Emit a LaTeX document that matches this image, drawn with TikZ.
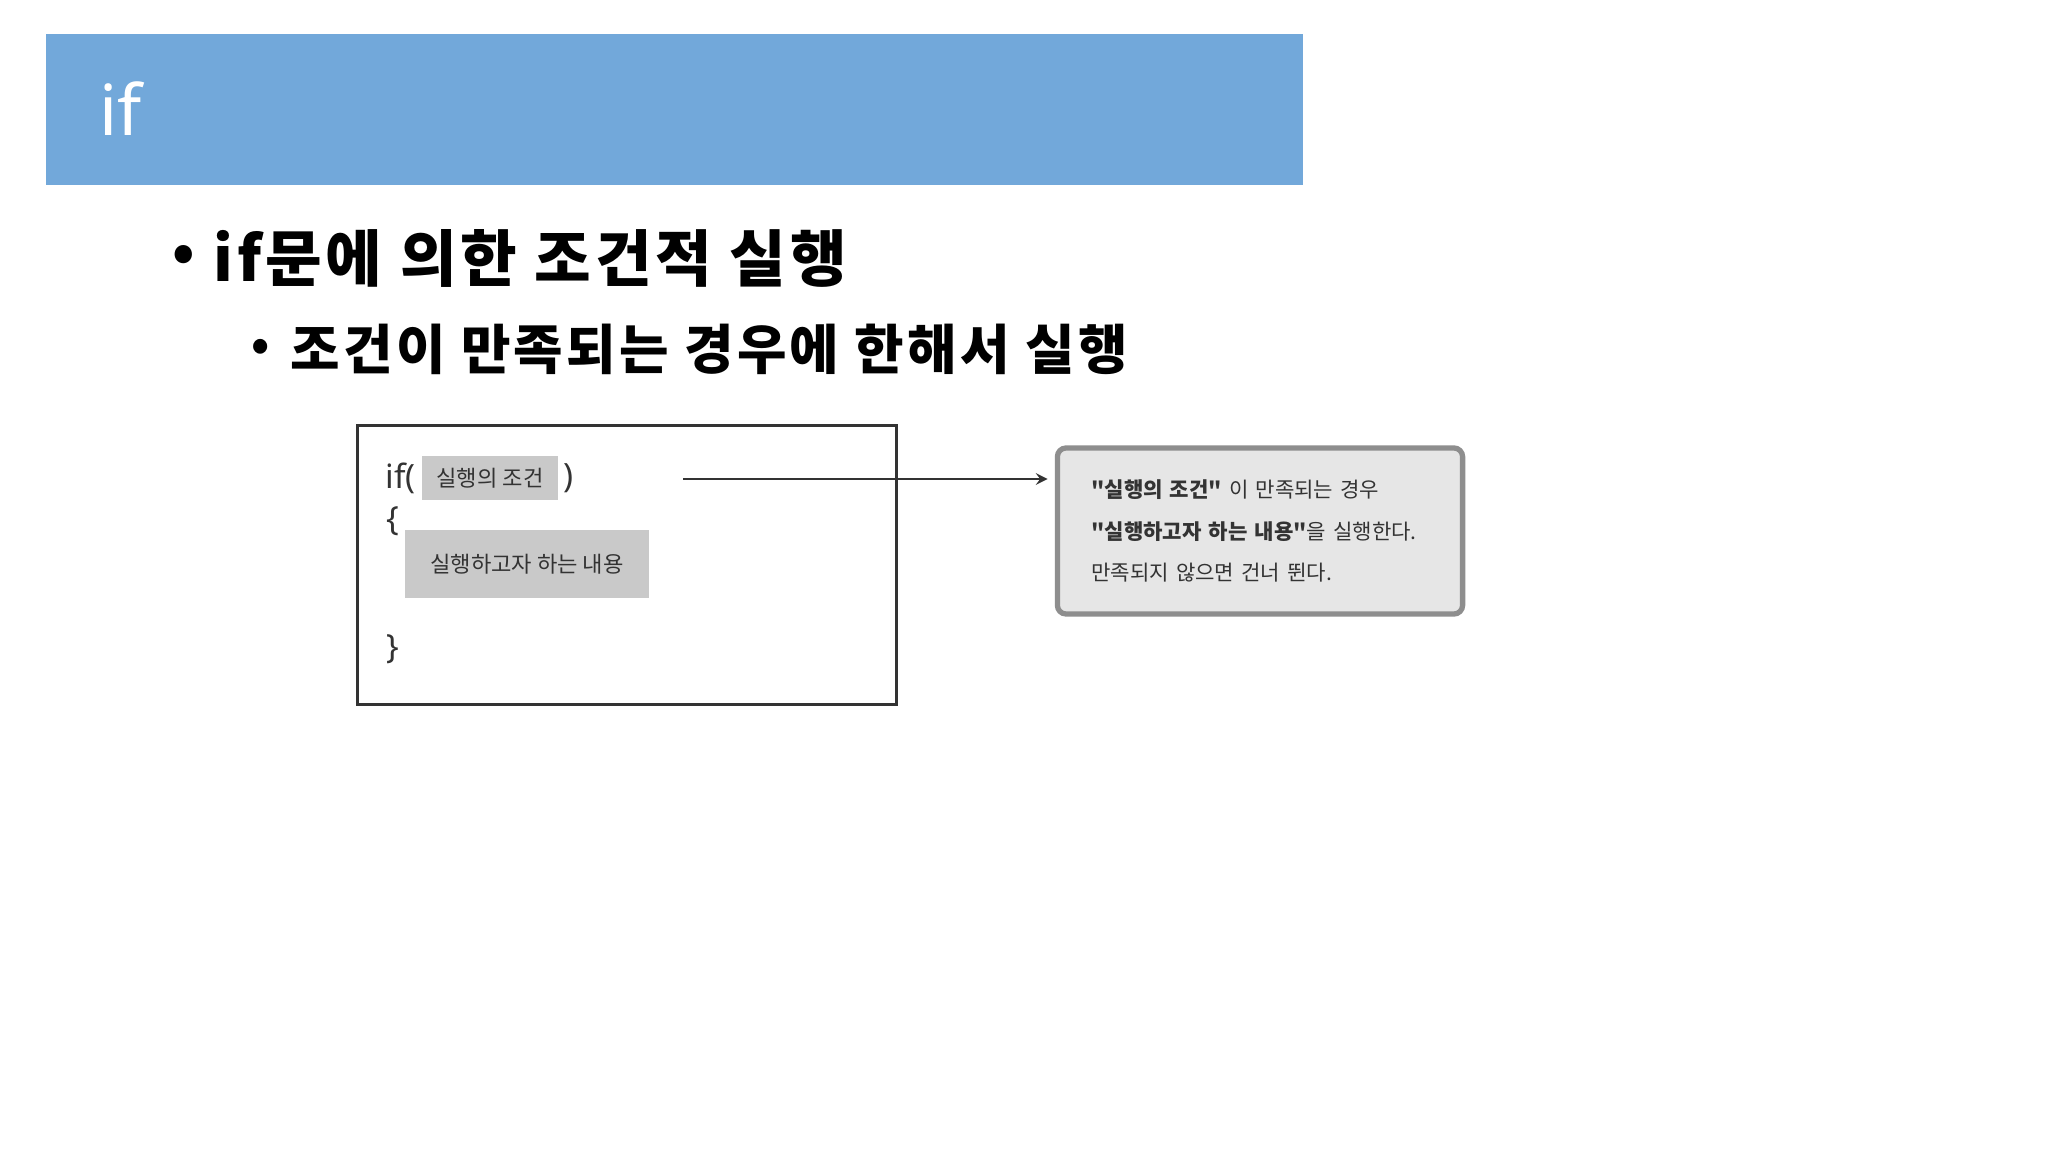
\documentclass[tikz,border=0pt]{standalone}
\usepackage{fontspec}
\setmainfont{Noto Sans}
\newfontfamily\kr{Noto Sans CJK KR}
\newfontfamily\krwide{Noto Sans CJK KR}[LetterSpace=6]
\definecolor{hdrblue}{HTML}{72A8DA}
\definecolor{boxgray}{HTML}{C9C9C9}
\definecolor{notegray}{HTML}{E6E6E6}
\definecolor{noteedge}{HTML}{8E8E8E}
\definecolor{ink}{HTML}{333333}
\begin{document}
\begin{tikzpicture}[x=0.01cm,y=-0.01cm,>=stealth,
	graybox/.style={fill=boxgray,text=ink,inner sep=0pt,font=\kr\fontsize{6.3}{7}\selectfont},
	codetxt/.style={text=ink,inner sep=0pt,anchor=west,font=\fontsize{9.5}{11}\selectfont},
	bullet/.style={inner sep=0pt,font=\kr\bfseries\fontsize{#1}{#1}\selectfont}]
	\useasboundingbox (0,0) rectangle (2048,1152);
	\fill[white] (0,0) rectangle (2048,1152);
	% header bar
	\node[fill=hdrblue,anchor=north west,minimum width=12.57cm,minimum height=1.51cm,inner sep=0pt] (header) at (45,33) {};
	\node[anchor=base west,inner sep=0pt,text=white,font=\fontsize{20}{22}\selectfont] (htitle) at (99,136) {if};
	% bullets
	\node[bullet=16] (bul1) at (184,259) {•};
	\node[anchor=west,inner sep=0pt,font=\krwide\bfseries\fontsize{17.5}{20}\selectfont] (title) at (213,258) {if문에 의한 조건적 실행};
	\node[bullet=13] (bul2) at (261,350) {•};
	\node[anchor=west,inner sep=0pt,font=\krwide\bfseries\fontsize{15.3}{18}\selectfont] (subtitle) at (290,349) {조건이 만족되는 경우에 한해서 실행};
	% code box
	\node[draw=ink,line width=0.9pt,anchor=north west,minimum width=5.39cm,minimum height=2.79cm] (codebox) at (356,424) {};
	\node[codetxt] (ifkw) at (385,478) {if(};
	\node[graybox,minimum width=1.36cm,minimum height=0.44cm] (cond) at (490,478) {실행의 조건};
	\node[codetxt] (rparen) at (563,478) {)};
	\node[codetxt] (lbrace) at (386,521) {\{};
	\node[graybox,minimum width=2.44cm,minimum height=0.68cm] (body) at (527,564) {실행하고자 하는 내용};
	\node[codetxt] (rbrace) at (386,649) {\}};
	% note
	\node[fill=notegray,draw=noteedge,line width=1.5pt,rounded corners=2.5pt,
		minimum width=4.05cm,minimum height=1.66cm,text width=3.37cm,inner xsep=0.34cm,
		align=left,text=ink,font=\kr\fontsize{6}{11.7}\selectfont] (note) at (1260,531)
		{{\bfseries "실행의 조건"} 이 만족되는 경우\\{\bfseries "실행하고자 하는 내용"}을 실행한다.\\만족되지 않으면 건너 뛴다.};
	\coordinate (astart) at (683,479);
	\draw[->,ink,line width=0.5pt,shorten >=2pt] (astart) -- (astart -| note.west);
\end{tikzpicture}
\end{document}
